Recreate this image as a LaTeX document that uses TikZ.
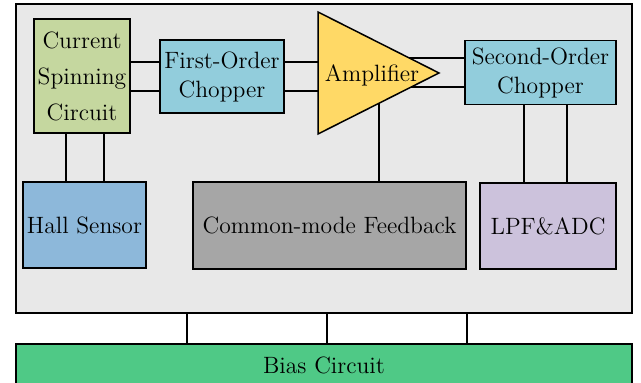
\documentclass[tikz,border=0pt]{standalone}
\usetikzlibrary{shapes.geometric,calc}
\pgfdeclarelayer{panel}
\pgfdeclarelayer{wires}
\pgfsetlayers{panel,wires,main}

\definecolor{panelgray}{HTML}{E8E8E8}
\definecolor{spingreen}{HTML}{C5D79F}
\definecolor{chopblue}{HTML}{92CDDC}
\definecolor{ampyellow}{HTML}{FFD966}
\definecolor{hallblue}{HTML}{8DB8DA}
\definecolor{cmfbgray}{HTML}{A6A6A6}
\definecolor{lpfpurple}{HTML}{CCC2DC}
\definecolor{biasgreen}{HTML}{4FC986}

\begin{document}
\begin{tikzpicture}[x=0.5pt,y=-0.5pt,
  block/.style={draw, line width=0.75pt, inner sep=0pt, outer sep=0pt,
    align=center, font=\fontsize{11.8}{14.5}\selectfont},
  label text/.style={inner sep=0pt, font=\fontsize{11.8}{14.5}\selectfont},
  wire/.style={draw, line width=0.65pt}]
\useasboundingbox (0,0) rectangle (641,383);

% enclosing chip panel and bias block
\begin{pgfonlayer}{panel}
  \node[block, line width=1pt, fill=panelgray, minimum width=308pt, minimum height=154.5pt] (chip) at (324,158.5) {};
\end{pgfonlayer}
\node[block, fill=biasgreen, minimum width=308pt, minimum height=21pt] (bias) at (324,365) {Bias Circuit};

% signal path blocks
\node[block, fill=spingreen, minimum width=48pt, minimum height=57pt,
  font=\fontsize{11.8}{18}\selectfont] (csc) at (82,76) {Current\\Spinning\\Circuit};
\node[block, fill=chopblue, minimum width=62pt, minimum height=36.5pt] (foc) at (222,76.5) {First-Order\\Chopper};
\node[draw, line width=0.75pt, fill=ampyellow, isosceles triangle, isosceles triangle stretches,
  minimum width=61pt, minimum height=60.5pt, inner sep=0pt, outer sep=0pt, anchor=apex] (amp) at (439,73) {};
\node[label text] (amptext) at (372,75) {Amplifier};
\node[block, fill=chopblue, minimum width=75.5pt, minimum height=32pt] (soc) at (540.5,72.5) {Second-Order\\Chopper};

% lower row
\node[block, fill=hallblue, minimum width=61.5pt, minimum height=43pt] (hall) at (84.5,225) {Hall Sensor};
\node[block, fill=cmfbgray, minimum width=136.5pt, minimum height=43.5pt] (cmfb) at (329.5,225.5) {Common-mode Feedback};
\node[block, fill=lpfpurple, minimum width=68pt, minimum height=43pt] (lpf) at (548,226) {LPF\&ADC};

% connections
\begin{pgfonlayer}{wires}
  \foreach \d in {7.25pt,-7.25pt} {
    \draw[wire] ([yshift=\d]foc.west) -- ([yshift=\d]foc.west -| csc.east);
    \draw[wire] ([yshift=\d]foc.east) -- ([yshift=\d]foc.east -| amptext);
    \draw[wire] ([yshift=\d]soc.west) -- ([yshift=\d]soc.west -| amptext);
  }
  \draw[wire] ([xshift=24.75pt]cmfb.north) -- ([xshift=24.75pt]cmfb.north |- amptext);
  \foreach \d in {-9.5pt,9.5pt}
    \draw[wire] ([xshift=\d+1.5pt]csc.south) -- ([xshift=\d+1.5pt]csc.south |- hall.north);
  \foreach \d in {-12pt,9.5pt}
    \draw[wire] ([xshift=\d]lpf.north) -- ([xshift=\d]lpf.north |- soc.south);
  \foreach \d in {-68.5pt,1.5pt,71.5pt}
    \draw[wire] ([xshift=\d]bias.north) -- ([xshift=\d]bias.north |- chip.south);
\end{pgfonlayer}
\end{tikzpicture}
\end{document}
